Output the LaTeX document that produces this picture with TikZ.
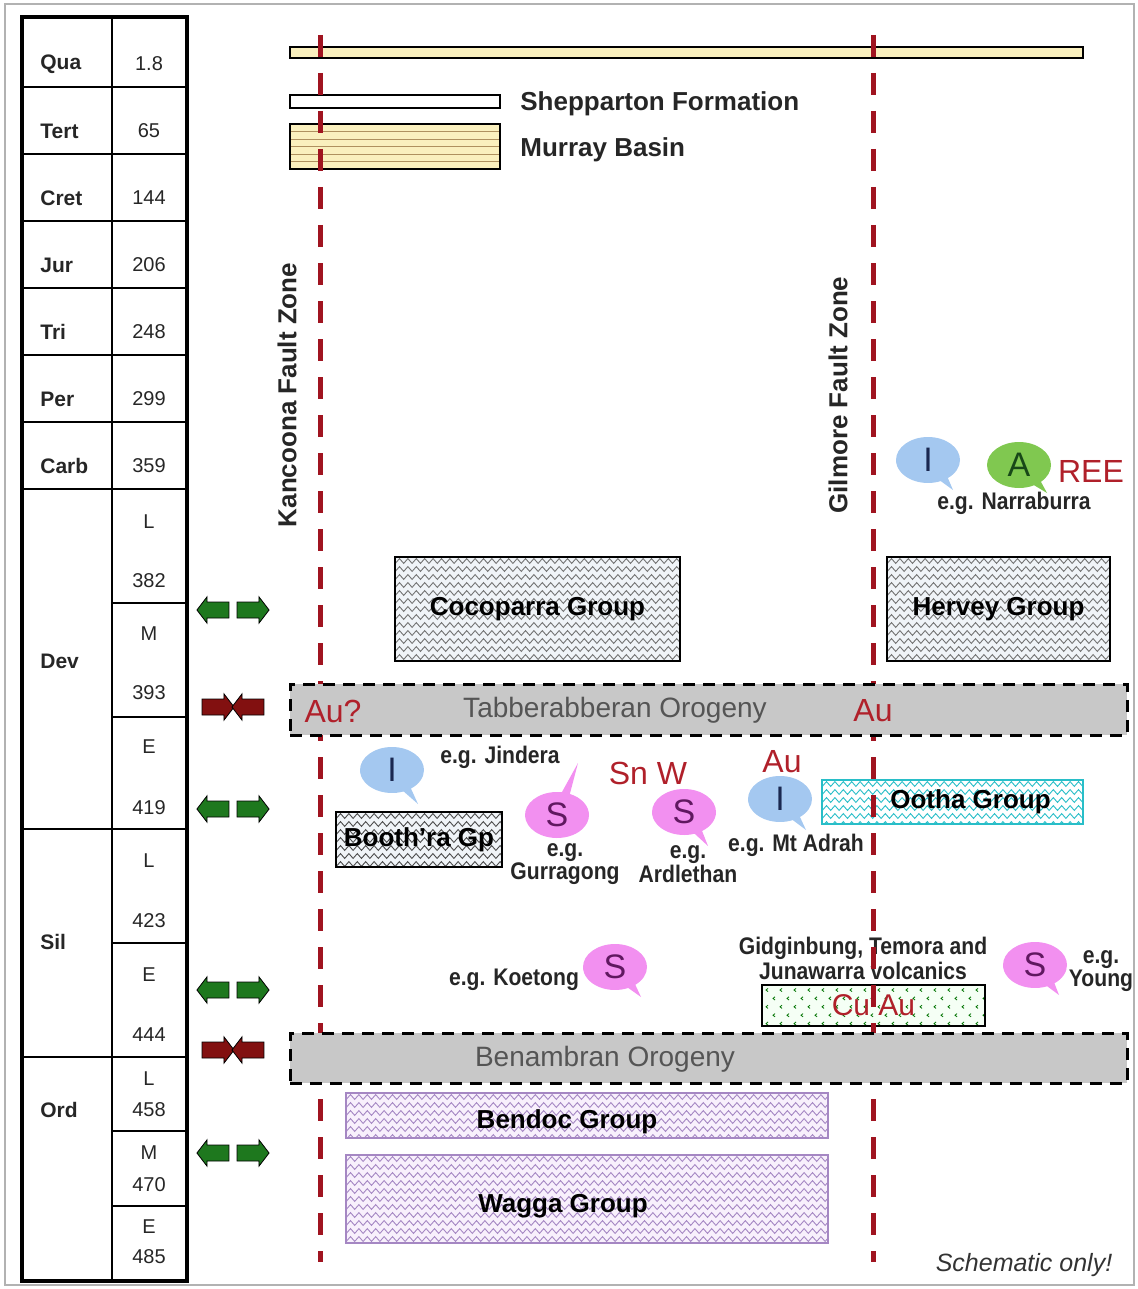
\documentclass[tikz,border=0pt]{standalone}
\usepackage{fontspec}
\setmainfont{Liberation Sans}
\newfontfamily\narrowfont[FakeStretch=0.88]{Liberation Sans}
\usetikzlibrary{shapes.arrows,shapes.callouts,decorations.pathmorphing}

\definecolor{faultred}{RGB}{160,20,32}
\definecolor{orered}{RGB}{176,32,42}
\definecolor{orogray}{RGB}{200,200,200}
\definecolor{orotext}{RGB}{85,85,85}
\definecolor{bubblue}{RGB}{164,200,240}
\definecolor{bubpink}{RGB}{242,144,240}
\definecolor{bubgreen}{RGB}{128,200,80}
\definecolor{inkblue}{RGB}{26,40,80}
\definecolor{inkpurple}{RGB}{96,24,96}
\definecolor{inkgreen}{RGB}{24,72,24}
\definecolor{arrgreen}{RGB}{30,120,30}
\definecolor{arrred}{RGB}{130,16,16}
\definecolor{sandfill}{RGB}{250,240,190}
\definecolor{sandline}{RGB}{175,145,95}
\definecolor{lilac}{RGB}{165,135,195}
\definecolor{lilacfill}{RGB}{248,240,252}
\definecolor{ootha}{RGB}{40,190,200}
\definecolor{paleblue}{RGB}{240,244,248}

\tikzset{
  perlbl/.style={anchor=west, inner sep=0pt, text=black!85, font=\fontsize{10.5}{12}\selectfont\bfseries},
  agelbl/.style={inner sep=0pt, text=black!85, font=\fontsize{10}{12}\selectfont},
  blockarr/.style={single arrow, draw=black, line width=0.4pt, minimum height=16pt,
    inner sep=3.8pt, single arrow head extend=2.6pt, single arrow tip angle=105},
  zigfill/.style={path picture={
    \foreach \k in {0,...,24}
      \draw[#1, line width=0.45pt, decorate, decoration={zigzag, segment length=4.2pt, amplitude=1.2pt}]
        ([xshift=-3pt, yshift=-\k*4pt-2pt]path picture bounding box.north west) --
        ([xshift=3pt, yshift=-\k*4pt-2pt]path picture bounding box.north east);}},
  grp/.style={draw, line width=0.7pt, inner sep=0pt, font=\fontsize{13}{15}\selectfont\bfseries},
  fault/.style={faultred, line width=2.5pt, dash pattern=on 11pt off 8pt},
  orogeny/.style={draw, fill=orogray, line width=1.5pt, dash pattern=on 6pt off 4pt,
    minimum width=418.5pt, inner sep=0pt},
  orolbl/.style={text=orotext, inner sep=0pt, font=\fontsize{14}{16}\selectfont},
  bub/.style={ellipse callout, minimum width=32pt, minimum height=23pt, inner sep=0pt,
    font=\fontsize{17}{19}\selectfont},
  ore/.style={text=orered, inner sep=0pt, font=\fontsize{16}{18}\selectfont},
  eg/.style={inner sep=0pt, align=center, text=black!85, font=\narrowfont\fontsize{12}{10}\selectfont\bfseries},
  lbl/.style={inner sep=0pt, text=black!85, font=\fontsize{13}{15}\selectfont\bfseries},
}

\begin{document}
\begin{tikzpicture}[x=0.5pt,y=-0.5pt]
\useasboundingbox (0,0) rectangle (1137,1289);
\draw[gray!60, line width=0.7pt] (5,4) rectangle (1134,1285);

% time scale
\draw[line width=2pt] (22,17) rectangle (187,1281);
\draw[line width=0.7pt] (112,17) -- (112,1281);
\foreach \nm/\age [count=\i] in {Qua/1.8,Tert/65,Cret/144,Jur/206,Tri/248,Per/299,Carb/359}{
  \node[perlbl] (p\nm) at (40,{64+67*(\i-1)}) {\nm};
  \node[agelbl] (a\nm) at (149,{64+67*(\i-1)}) {\age};
  \draw[line width=0.7pt] (22,{87+67*(\i-1)}) -- (187,{87+67*(\i-1)});
}
\foreach \yy in {829,1057} \draw[line width=0.7pt] (22,\yy) -- (187,\yy);
\foreach \yy in {603,717,943,1131,1206} \draw[line width=0.7pt] (112,\yy) -- (187,\yy);
\node[perlbl] (pDev) at (40,661) {Dev};
\node[perlbl] (pSil) at (40,942) {Sil};
\node[perlbl] (pOrd) at (40,1110) {Ord};
\foreach \yy/\txt [count=\i] in {522/L,581/382,634/M,693/393,747/E,808/419,861/L,921/423,
    975/E,1035/444,1079/L,1110/458,1153/M,1185/470,1227/E,1257/485}
  \node[agelbl] (s\i) at (149,\yy) {\txt};

% extension and compression
\foreach \yy [count=\i] in {610,809,990,1153}{
  \node[blockarr, fill=arrgreen, shape border rotate=180] (extl\i) at (216,\yy) {};
  \node[blockarr, fill=arrgreen] (extr\i) at (250,\yy) {};
}
\foreach \yy [count=\i] in {707,1050}{
  \node[blockarr, fill=arrred] (compl\i) at (215,\yy) {};
  \node[blockarr, fill=arrred, shape border rotate=180] (compr\i) at (251,\yy) {};
}

% cover
\node[draw, line width=0.7pt, fill=sandfill, minimum width=396.5pt, minimum height=5.5pt, inner sep=0pt] (quabar) at (686.5,52.5) {};
\node[draw, line width=0.7pt, fill=white, minimum width=105pt, minimum height=6.5pt, inner sep=0pt] (shepbox) at (395,101.5) {};
\node[draw, line width=0.7pt, fill=sandfill, minimum width=105pt, minimum height=22.5pt, inner sep=0pt,
  path picture={\foreach \k in {1,...,5}
    \draw[sandline, line width=0.5pt] ([yshift=-\k*3.8pt]path picture bounding box.north west) -- ([yshift=-\k*3.8pt]path picture bounding box.north east);}] (murraybox) at (395,146.5) {};
\node[lbl, anchor=west] (shepton) at (520,104) {Shepparton Formation};
\node[lbl, anchor=west] (murray) at (520,150) {Murray Basin};

% Carboniferous
\node[bub, fill=bubblue, text=inkblue, callout absolute pointer={(953,490)}] (icarb) at (928,460) {I};
\node[bub, fill=bubgreen, text=inkgreen, callout absolute pointer={(1047,493)}] (acarb) at (1019,465) {A};
\node[ore] (ree) at (1091,471) {REE};
\node[eg] (narraburra) at (1014,503) {e.g. Narraburra};

% Devonian
\node[grp, fill=paleblue, zigfill=black!55, minimum width=142.5pt, minimum height=52pt] (cocoparra) at (537.5,609) {Cocoparra Group};
\node[grp, fill=paleblue, zigfill=black!55, minimum width=111.5pt, minimum height=52pt] (hervey) at (998.5,609) {Hervey Group};
\node[grp, fill=paleblue, zigfill=black!70, minimum width=83pt, minimum height=27.5pt] (boothra) at (419,839.5) {Booth'ra Gp};
\node[grp, draw=ootha, fill=white, zigfill=ootha, minimum width=130.5pt, minimum height=22pt] (ootha) at (952.5,802) {\hspace*{18pt}Ootha Group};

\node[bub, fill=bubblue, text=inkblue, callout absolute pointer={(418,804)}] (ijindera) at (392,770) {I};
\node[eg] (jindera) at (500,757) {e.g. Jindera};
\node[bub, fill=bubpink, text=inkpurple, callout absolute pointer={(578,763)}] (sgurra) at (557,815) {S};
\node[eg] (gurragong) at (565,864) {e.g.\\Gurragong};
\node[ore] (snw) at (648,773) {Sn W};
\node[bub, fill=bubpink, text=inkpurple, callout absolute pointer={(708,846)}] (sardle) at (684,812) {S};
\node[eg] (ardlethan) at (688,864) {e.g.\\Ardlethan};
\node[ore] (auadrah) at (782,762) {Au};
\node[bub, fill=bubblue, text=inkblue, callout absolute pointer={(806,830)}] (iadrah) at (780,799) {I};
\node[eg] (adrah) at (796,845) {e.g. Mt Adrah};

% Silurian
\node[eg] (koetong) at (514,980) {e.g. Koetong};
\node[bub, fill=bubpink, text=inkpurple, callout absolute pointer={(641,997)}] (skoet) at (615,967) {S};
\node[eg, font=\narrowfont\fontsize{12}{12.5}\selectfont\bfseries] (gidgin) at (863,958) {Gidginbung, Temora and\\Junawarra volcanics};
\node[draw, line width=0.7pt, fill=green!4, minimum width=111.5pt, minimum height=20.5pt, inner sep=0pt,
  text=orered, font=\fontsize{15}{17}\selectfont,
  path picture={\foreach \i in {0,...,16} \foreach \j in {0,...,4}
    \draw[green!45!black, line width=0.4pt] ([xshift={\i*7pt+2pt+mod(\j,2)*3.5pt}, yshift={-\j*4.2pt-2.5pt}]path picture bounding box.north west)
      ++(1pt,0.8pt) -- ++(-1pt,-0.8pt) -- ++(1pt,-0.8pt);}] (cuau) at (873.5,1005.5) {Cu Au};
\node[bub, fill=bubpink, text=inkpurple, callout absolute pointer={(1059,995)}] (syoung) at (1035,965) {S};
\node[eg] (young) at (1101,971) {e.g.\\Young};

% Ordovician
\node[grp, draw=lilac, fill=lilacfill, zigfill=lilac, minimum width=241pt, minimum height=22.5pt] (bendoc) at (587,1115.5) {\hspace*{-20pt}\raisebox{-6.4pt}[0pt][0pt]{Bendoc Group}};
\node[grp, draw=lilac, fill=lilacfill, zigfill=lilac, minimum width=241pt, minimum height=44pt] (wagga) at (587,1199) {\hspace*{-24pt}\raisebox{-6.6pt}[0pt][0pt]{Wagga Group}};

% fault zones
\coordinate (ktop) at (320,35);
\coordinate (kbot) at (320,1262);
\coordinate (gtop) at (873,35);
\coordinate (gbot) at (873,1262);
\draw[fault] (ktop) -- (kbot);
\draw[fault] (gtop) -- (gbot);
\node[lbl, rotate=90] (kancoona) at (287,395) {Kancoona Fault Zone};
\node[lbl, rotate=90] (gilmore) at (838,395) {Gilmore Fault Zone};

% orogenies
\node[orogeny, minimum height=25.5pt] (tabbox) at (708.5,709.5) {};
\node[orolbl] (tabber) at (615,710) {Tabberabberan Orogeny};
\node[ore] (auq) at (333,711) {Au?};
\node[ore] (augil) at (873,711) {Au};
\node[orogeny, minimum height=25pt] (benbox) at (708.5,1058) {};
\node[orolbl] (benam) at (605,1059) {Benambran Orogeny};

\node[inner sep=0pt, text=black!80, font=\fontsize{12.5}{14}\selectfont\itshape] (schem) at (1024,1265) {Schematic only!};
\end{tikzpicture}
\end{document}
